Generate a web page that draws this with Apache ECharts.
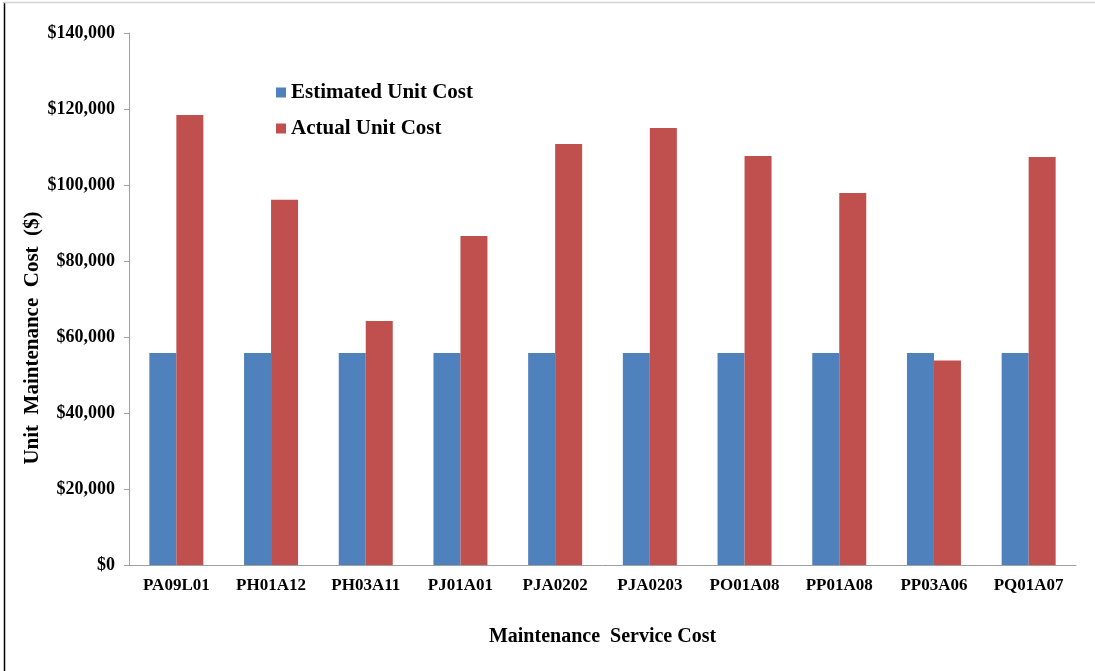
<!DOCTYPE html>
<html>
<head>
<meta charset="utf-8">
<script src="https://cdn.jsdelivr.net/npm/echarts@6/dist/echarts.min.js"></script>
<style>
  html, body { margin: 0; padding: 0; background: #fff; }
  #chart { width: 1095px; height: 671px; }
</style>
</head>
<body>
<div id="chart"></div>
<script>
// Service codes along the x axis
const categories = ['PA09L01', 'PH01A12', 'PH03A11', 'PJ01A01', 'PJA0202',
                    'PJA0203', 'PO01A08', 'PP01A08', 'PP03A06', 'PQ01A07'];
// Unit maintenance costs in dollars
const estimatedCost = [55800, 55800, 55800, 55800, 55800, 55800, 55800, 55800, 55800, 55800];
const actualCost = [118400, 96100, 64200, 86600, 110800, 115000, 107600, 97900, 53800, 107400];
// Y axis range and step
const yMin = 0, yMax = 140000, yStep = 20000;
const yTitle = 'Unit  Maintenance  Cost  ($)';
const xTitle = 'Maintenance  Service Cost';

const serif = '"Liberation Serif", "Times New Roman", serif';

function money(v) {
  return '$' + String(v).replace(/\B(?=(\d{3})+(?!\d))/g, ',');
}

const chart = echarts.init(document.getElementById('chart'));
chart.setOption({
  animation: false,
  backgroundColor: '#ffffff',
  graphic: [
    // frame edges
    { type: 'line', shape: { x1: 4.5, y1: 2, x2: 4.5, y2: 671 }, style: { stroke: '#000', lineWidth: 1.5 } },
    { type: 'line', shape: { x1: 4, y1: 2.5, x2: 1095, y2: 2.5 }, style: { stroke: '#d4d4d4', lineWidth: 1.5 } },
    // vertical axis title
    {
      type: 'text', x: 33, y: 338, rotation: Math.PI / 2,
      style: {
        text: yTitle, fill: '#000', fontFamily: serif, fontWeight: 'bold', fontSize: 21,
        align: 'center', verticalAlign: 'middle'
      }
    }
  ],
  grid: { left: 129, right: 19, top: 33, bottom: 106 },
  legend: {
    orient: 'vertical',
    left: 271, top: 77,
    itemWidth: 10, itemHeight: 10, itemGap: 15,
    icon: 'rect',
    textStyle: { fontFamily: serif, fontWeight: 'bold', fontSize: 21, color: '#000' },
    data: ['Estimated Unit Cost', 'Actual Unit Cost']
  },
  xAxis: {
    type: 'category',
    data: categories,
    name: xTitle,
    nameLocation: 'middle',
    nameGap: 62,
    nameTextStyle: { fontFamily: serif, fontWeight: 'bold', fontSize: 20, color: '#000' },
    axisLine: { lineStyle: { color: '#a0a0a0', width: 1 } },
    axisTick: { show: false },
    axisLabel: { fontFamily: serif, fontWeight: 'bold', fontSize: 17, color: '#000', margin: 12 }
  },
  yAxis: {
    type: 'value',
    min: yMin, max: yMax, interval: yStep,
    axisLine: { show: true, lineStyle: { color: '#a0a0a0', width: 1 } },
    axisTick: { show: true, length: 5, lineStyle: { color: '#a0a0a0' } },
    splitLine: { show: false },
    axisLabel: { fontFamily: serif, fontWeight: 'bold', fontSize: 18, color: '#000', margin: 14, formatter: money }
  },
  series: [
    {
      name: 'Estimated Unit Cost', type: 'bar', data: estimatedCost,
      barWidth: 27, barGap: '0%',
      itemStyle: { color: '#4F81BD' }
    },
    {
      name: 'Actual Unit Cost', type: 'bar', data: actualCost,
      barWidth: 27, barGap: '0%',
      itemStyle: { color: '#C0504D' }
    }
  ]
});
</script>
</body>
</html>
